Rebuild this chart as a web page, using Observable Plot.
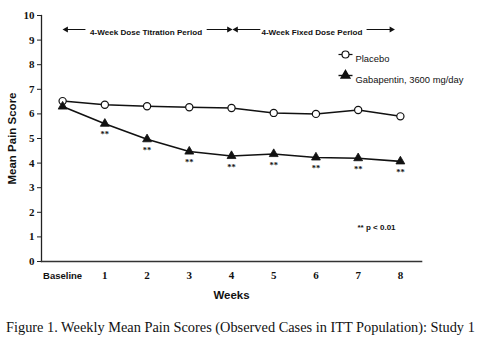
<!DOCTYPE html>
<html><head><meta charset="utf-8">
<script src="https://cdn.jsdelivr.net/npm/d3@7"></script>
<script src="https://cdn.jsdelivr.net/npm/@observablehq/plot@0.6"></script>
<style>
body{margin:0;background:#fff;width:480px;height:350px;overflow:hidden;}
#caption{font-family:"Liberation Serif","Times New Roman",serif;font-size:14.35px;color:#111;margin:7px 0 0 6px;white-space:nowrap;line-height:17px;}
</style></head><body>
<div id="chart"></div>
<div id="caption">Figure 1. Weekly Mean Pain Scores (Observed Cases in ITT Population): Study 1</div>
<script>
const weeks = [0, 1, 2, 3, 4, 5, 6, 7, 8];
const weekLabels = ["Baseline", "1", "2", "3", "4", "5", "6", "7", "8"];
const placebo = [6.52, 6.37, 6.31, 6.27, 6.24, 6.04, 6.0, 6.16, 5.9];
const gabapentin = [6.3, 5.6, 4.97, 4.47, 4.29, 4.37, 4.23, 4.2, 4.07];
const significance = ["", "**", "**", "**", "**", "**", "**", "**", "**"];
const yTicks = [0, 1, 2, 3, 4, 5, 6, 7, 8, 9, 10];
const periodLabels = ["4-Week Dose Titration Period", "4-Week Fixed Dose Period"];
const periodStart = [0, 4];
const periodEnd = [4, 8];
const seriesNames = ["Placebo", "Gabapentin, 3600 mg/day"];
const noteText = "** p < 0.01";

const rows = weeks.map((w, i) => ({week: w, placebo: placebo[i], gaba: gabapentin[i], sig: significance[i]}));
const periods = periodLabels.map((l, i) => ({label: l, start: periodStart[i], end: periodEnd[i], mid: (periodStart[i] + periodEnd[i]) / 2}));

const sans = "'Liberation Sans', Arial, sans-serif";
const serif = "'Liberation Serif', 'Times New Roman', serif";
const lineSym = {draw(ctx) { ctx.moveTo(-7, 0); ctx.lineTo(7, 0); }};

// per-period pixel styling for the bracket arrows
const periodStyle = [
  {textDx: -1, leftInset: 62, rightInset: 60, leftHeadDx: 3.5, rightHeadDx: -1},
  {textDx: -4, leftInset: 56, rightInset: 51, leftHeadDx: 4.5, rightHeadDx: -7.5}
];

const periodMarks = periods.flatMap((p, i) => {
  const s = periodStyle[i];
  const d = [p];
  return [
    Plot.text(d, {x: "mid", text: "label", frameAnchor: "top", dy: 14, dx: s.textDx, fontWeight: "bold", fontSize: 8.1}),
    Plot.arrow(d, {x1: "mid", x2: "start", y1: 10, y2: 10, dy: 14, insetStart: s.leftInset, insetEnd: 3, headLength: 0, strokeWidth: 1, stroke: "#111"}),
    Plot.arrow(d, {x1: "mid", x2: "end", y1: 10, y2: 10, dy: 14, insetStart: s.rightInset, insetEnd: -s.rightHeadDx + 2, headLength: 0, strokeWidth: 1, stroke: "#111"}),
    Plot.dot(d, {x: "start", y: 10, dy: 14, dx: s.leftHeadDx, symbol: "triangle", rotate: -90, r: 2.3, fill: "#111"}),
    Plot.dot(d, {x: "end", y: 10, dy: 14, dx: s.rightHeadDx - 1.5, symbol: "triangle", rotate: 90, r: 2.3, fill: "#111"})
  ];
});

const chart = Plot.plot({
  width: 480, height: 312,
  marginLeft: 41, marginRight: 59, marginTop: 15, marginBottom: 51,
  x: {domain: [-0.5, 8.5]},
  y: {domain: [0, 10]},
  style: {fontFamily: sans, background: "white", color: "#111"},
  marks: [
    Plot.frame({anchor: "left", stroke: "#222", strokeWidth: 1.3}),
    Plot.frame({anchor: "bottom", stroke: "#333", strokeWidth: 1.6}),
    Plot.axisY({ticks: yTicks, tickSize: 4, tickPadding: 3, fontFamily: serif, fontWeight: "bold", fontSize: 11, label: null, stroke: "#222"}),
    Plot.axisX({ticks: [0], tickSize: 0, tickPadding: 11, tickFormat: i => weekLabels[i], fontFamily: sans, fontWeight: "bold", fontSize: 9.5, label: null}),
    Plot.axisX({ticks: weeks.slice(1), tickSize: 0, tickPadding: 10, tickFormat: i => weekLabels[i], fontFamily: serif, fontWeight: "bold", fontSize: 11, label: null}),
    Plot.text(["Mean Pain Score"], {frameAnchor: "left", dx: -29, rotate: -90, textAnchor: "middle", fontWeight: "bold", fontSize: 11.5}),
    Plot.text(["Weeks"], {frameAnchor: "bottom", dy: 37, fontWeight: "bold", fontSize: 11.5}),
    ...periodMarks,
    // series
    Plot.line(rows, {x: "week", y: "placebo", stroke: "#111", strokeWidth: 1.5}),
    Plot.line(rows, {x: "week", y: "gaba", stroke: "#111", strokeWidth: 1.6}),
    Plot.dot(rows, {x: "week", y: "placebo", r: 3.6, fill: "white", stroke: "#111", strokeWidth: 1.2}),
    Plot.dot(rows, {x: "week", y: "gaba", symbol: "triangle", r: 3.3, fill: "#111", stroke: "#111", strokeWidth: 0.8}),
    Plot.text(rows.filter(d => d.sig), {x: "week", y: "gaba", text: "sig", dy: 11, fontFamily: serif, fontWeight: "bold", fontSize: 8.5}),
    // legend
    Plot.dot([seriesNames[0]], {frameAnchor: "top-right", dx: -76, dy: 39, symbol: lineSym, r: 4, stroke: "#111", strokeWidth: 1.2}),
    Plot.dot([seriesNames[0]], {frameAnchor: "top-right", dx: -76, dy: 39, r: 3.5, fill: "white", stroke: "#111", strokeWidth: 1.2}),
    Plot.dot([seriesNames[1]], {frameAnchor: "top-right", dx: -76, dy: 60, symbol: lineSym, r: 4, stroke: "#111", strokeWidth: 1.4}),
    Plot.dot([seriesNames[1]], {frameAnchor: "top-right", dx: -76, dy: 60, symbol: "triangle", r: 3.2, fill: "#111", stroke: "#111"}),
    Plot.text(seriesNames.slice(0, 1), {frameAnchor: "top-right", dx: -66, dy: 40, textAnchor: "start", fontSize: 9.4}),
    Plot.text(seriesNames.slice(1), {frameAnchor: "top-right", dx: -66, dy: 61, textAnchor: "start", fontSize: 9.4}),
    Plot.text([noteText], {frameAnchor: "bottom-right", dx: -64, dy: -32, textAnchor: "start", fontWeight: "bold", fontSize: 8})
  ]
});
document.getElementById("chart").append(chart);
</script>
</body></html>
